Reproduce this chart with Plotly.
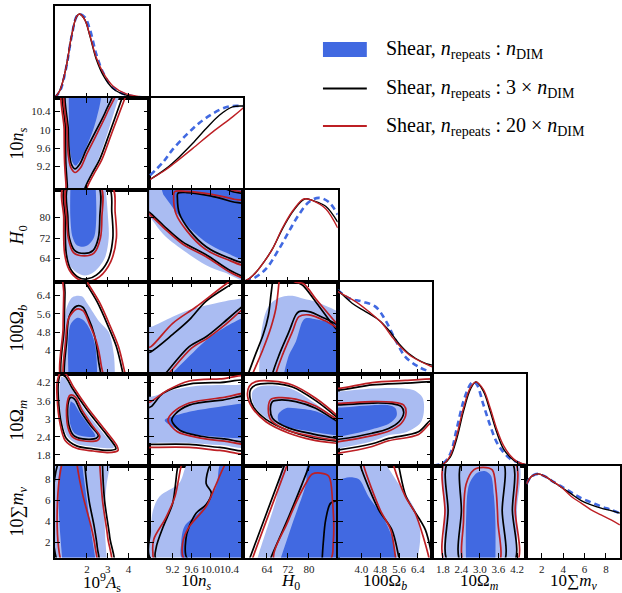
import plotly.graph_objects as go

W, H = 622, 593
COLS = [55.0, 149.6, 244.2, 338.8, 433.4, 528.0, 622.0]
ROWS = [5.7, 97.7, 189.5, 281.5, 373.5, 465.5, 557.5]

RANGES = [[0.45, 5.0], [8.7, 10.7], [55, 91], [3.0, 7.0], [1.45, 4.5], [0.55, 9.32]]
TICKS = [[2, 3, 4], [9.2, 9.6, 10.0, 10.4], [64, 72, 80], [4.0, 4.8, 5.6, 6.4],
         [1.8, 2.4, 3.0, 3.6, 4.2], [2, 4, 6, 8]]
XTXT = [["2", "3", "4"], ["9.2", "9.6", "10.0", "10.4"], ["64", "72", "80"],
        ["4.0", "4.8", "5.6", "6.4"], ["1.8", "2.4", "3.0", "3.6", "4.2"], ["2", "4", "6", "8"]]
YTXT = [["2", "3", "4"], ["9.2", "9.6", "10", "10.4"], ["64", "72", "80"],
        ["4", "4.8", "5.6", "6.4"], ["1.8", "2.4", "3", "3.6", "4.2"], ["2", "4", "6", "8"]]
LABELS = ["10<sup>9</sup><i>A</i><sub>s</sub>", "10<i>n<sub>s</sub></i>", "<i>H</i><sub>0</sub>",
          "100Ω<sub><i>b</i></sub>", "10Ω<sub><i>m</i></sub>", "10∑<i>m<sub>ν</sub></i>"]
LEGEND = ["Shear, <i>n</i><sub>repeats</sub> : <i>n</i><sub>DIM</sub>",
          "Shear, <i>n</i><sub>repeats</sub> : 3 × <i>n</i><sub>DIM</sub>",
          "Shear, <i>n</i><sub>repeats</sub> : 20 × <i>n</i><sub>DIM</sub>"]

# ---- 1D marginals (peak-normalised heights) ----
AS_X = [0.45, 0.7, 1.0, 1.25, 1.5, 1.65, 1.9, 2.15, 2.45, 2.8, 3.25, 3.9, 5.0]
AS_BLUE = [0.0, 0.08, 0.36, 0.72, 0.97, 1.0, 0.96, 0.81, 0.52, 0.29, 0.12, 0.035, 0.0]
AS_BLACK = [0.0, 0.09, 0.37, 0.73, 0.97, 1.0, 0.93, 0.73, 0.46, 0.26, 0.11, 0.03, 0.0]
AS_RED = [0.0, 0.09, 0.37, 0.73, 0.97, 1.0, 0.93, 0.74, 0.48, 0.29, 0.14, 0.045, 0.0]

NS_BLUE_X = [8.72, 9.0, 9.2, 9.5, 9.77, 10.05, 10.3, 10.47, 10.7]
NS_BLUE = [0.17, 0.33, 0.48, 0.66, 0.8, 0.91, 0.98, 1.0, 1.0]
NS_BLACK_X = [8.72, 9.06, 9.34, 9.62, 9.91, 10.19, 10.47, 10.7]
NS_BLACK = [0.12, 0.25, 0.39, 0.55, 0.73, 0.89, 0.99, 1.0]
NS_RED_X = [8.72, 9.06, 9.2, 9.62, 10.05, 10.47, 10.7]
NS_RED = [0.12, 0.24, 0.3, 0.49, 0.69, 0.87, 0.98]

H0_LINE_X = [55.3, 57.5, 59.8, 63.0, 66.1, 69.9, 73.7, 77.5, 78.8, 81.3, 86.4, 91.0]
H0_BLACK = [0.0, 0.04, 0.11, 0.24, 0.39, 0.63, 0.83, 0.97, 0.99, 0.97, 0.9, 0.71]
H0_RED = [0.0, 0.04, 0.11, 0.24, 0.39, 0.64, 0.84, 0.98, 0.99, 0.97, 0.87, 0.64]
H0_BLUE_X = [55.7, 59.0, 63.6, 68.6, 72.4, 76.2, 80.0, 83.8, 87.6, 91.0]
H0_BLUE = [0.0, 0.04, 0.15, 0.39, 0.6, 0.8, 0.95, 1.0, 0.95, 0.8]

OB_BLACK_X = [3.0, 3.61, 4.18, 4.74, 5.16, 5.59, 6.01, 6.57, 7.0]
OB_BLACK = [1.0, 0.84, 0.74, 0.64, 0.52, 0.36, 0.24, 0.14, 0.1]
OB_RED_X = [3.0, 3.76, 4.32, 4.88, 5.3, 5.66, 6.15, 7.0]
OB_RED = [0.98, 0.86, 0.74, 0.6, 0.44, 0.32, 0.2, 0.08]
OB_BLUE_X = [3.0, 3.47, 4.04, 4.6, 5.02, 5.45, 5.87, 6.43, 6.93]
OB_BLUE = [1.0, 0.9, 0.86, 0.8, 0.64, 0.4, 0.2, 0.08, 0.02]

OM_LINE_X = [1.5, 1.82, 2.04, 2.25, 2.47, 2.69, 2.87, 3.11, 3.33, 3.54, 3.76, 3.98, 4.19, 4.5]
OM_RED = [0.0, 0.02, 0.12, 0.36, 0.69, 0.93, 1.0, 0.91, 0.69, 0.44, 0.24, 0.12, 0.05, 0.01]
OM_BLACK = [0.0, 0.02, 0.1, 0.32, 0.65, 0.91, 1.0, 0.89, 0.65, 0.4, 0.2, 0.1, 0.04, 0.01]
OM_BLUE_X = [1.5, 1.82, 2.04, 2.25, 2.47, 2.69, 2.79, 2.9, 3.11, 3.33, 3.54, 3.76, 3.98, 4.4]
OM_BLUE = [0.0, 0.03, 0.14, 0.44, 0.77, 0.97, 1.0, 0.97, 0.73, 0.48, 0.28, 0.16, 0.08, 0.02]

SM_X = [0.58, 1.04, 1.67, 2.29, 2.9, 3.83, 4.76, 5.69, 6.62, 7.55, 8.49, 9.3]
SM_BLACK = [0.88, 0.97, 1.0, 0.97, 0.92, 0.84, 0.76, 0.68, 0.63, 0.59, 0.56, 0.53]
SM_RED = [0.88, 0.97, 1.0, 0.97, 0.92, 0.84, 0.73, 0.65, 0.57, 0.51, 0.45, 0.39]
SM_BLUE = [0.88, 0.97, 1.0, 0.97, 0.92, 0.85, 0.78, 0.71, 0.66, 0.61, 0.57, 0.53]

# ---- 2D contours: (x, y) in data units ----
# b = nDIM (filled), k = 3 x nDIM (black), r = 20 x nDIM (red); 95 / 68 levels
NS_AS = dict(
    b95=[(0.88, 11.0), (0.89, 10.0), (0.9, 9.3), (0.97, 8.8), (1.02, 8.4), (1.85, 8.4), (1.92, 8.71), (2.25, 9.05), (2.55, 9.35), (3.0, 9.93), (3.5, 10.65), (3.8, 11.0)],
    b68=[(1.12, 11.0), (1.14, 10.0), (1.2, 9.5), (1.3, 9.3), (1.45, 9.22), (1.65, 9.32), (1.95, 9.6), (2.3, 10.0), (2.6, 10.5), (2.8, 11.0)],
    k95=[(0.96, 11.0), (0.97, 10.0), (0.98, 9.3), (1.05, 8.8), (1.1, 8.4), (1.8, 8.4), (1.89, 8.71), (2.25, 9.05), (2.61, 9.35), (3.09, 9.93), (3.66, 10.65), (3.95, 11.0)],
    k68=[(1.08, 11.0), (1.1, 10.0), (1.15, 9.5), (1.25, 9.25), (1.42, 9.15), (1.65, 9.25), (1.95, 9.55), (2.4, 9.95), (2.9, 10.4), (3.35, 11.0)],
    r95=[(0.9, 11.0), (0.9, 10.0), (0.92, 9.3), (0.99, 8.8), (1.04, 8.4), (1.88, 8.4), (1.98, 8.71), (2.35, 9.05), (2.72, 9.35), (3.2, 9.93), (3.8, 10.65), (4.1, 11.0)],
    r68=[(1.02, 11.0), (1.04, 10.0), (1.1, 9.45), (1.22, 9.18), (1.42, 9.07), (1.7, 9.18), (2.0, 9.48), (2.5, 9.93), (3.0, 10.4), (3.5, 11.0)],
)
H0_AS = dict(
    b95=[(0.85, 92), (0.85, 80), (0.9, 68), (1.1, 62), (1.5, 58.5), (1.9, 57.3), (2.35, 58.8), (2.85, 64), (3.05, 72), (3.0, 82), (2.9, 92)],
    b68=[(1.2, 92), (1.2, 80), (1.3, 72.5), (1.5, 69.3), (1.81, 68.6), (2.1, 69.6), (2.35, 72.5), (2.45, 80), (2.42, 92)],
    k95=[(0.96, 92), (0.95, 80), (1.0, 66), (1.2, 60), (1.6, 56.6), (2.0, 56.0), (2.45, 57.5), (3.0, 63), (3.25, 72), (3.2, 82), (3.05, 92)],
    k68=[(1.1, 92), (1.08, 80), (1.15, 72), (1.4, 67.2), (1.89, 66.0), (2.3, 67.2), (2.55, 72), (2.62, 80), (2.55, 92)],
    r95=[(0.88, 92), (0.88, 80), (0.92, 66), (1.15, 59.5), (1.6, 55.8), (2.1, 55.0), (2.6, 56.8), (3.15, 62.8), (3.42, 72), (3.36, 82), (3.2, 92)],
    r68=[(1.04, 92), (1.02, 80), (1.1, 72), (1.35, 66.3), (1.89, 65.0), (2.35, 66.2), (2.65, 72), (2.72, 80), (2.65, 92)],
)
OB_AS = dict(
    b95=[(0.95, 2.5), (0.9, 4.5), (1.0, 5.8), (1.3, 6.32), (1.75, 6.36), (2.05, 6.0), (2.6, 5.25), (3.05, 4.8), (3.3, 3.8), (3.35, 2.5)],
    b68=[(1.12, 2.5), (1.1, 4.5), (1.22, 5.15), (1.55, 5.42), (1.85, 5.3), (2.2, 4.8), (2.42, 4.1), (2.5, 2.5)],
    k95=[(0.95, 7.5), (0.94, 6.5), (0.9, 5.0), (0.93, 2.5), (3.85, 2.5), (3.73, 3.03), (3.42, 4.17), (3.05, 5.0), (2.5, 6.1), (1.89, 7.02), (1.6, 7.5)],
    k68=[(1.05, 2.5), (1.03, 4.5), (1.15, 5.5), (1.5, 5.93), (1.8, 5.88), (2.05, 5.45), (2.35, 4.7), (2.55, 3.6), (2.62, 2.5)],
    r95=[(0.88, 7.5), (0.88, 6.5), (0.85, 5.0), (0.88, 2.5), (3.95, 2.5), (3.83, 3.03), (3.52, 4.17), (3.15, 5.0), (2.6, 6.1), (1.98, 7.02), (1.7, 7.5)],
    r68=[(1.0, 2.5), (0.98, 4.5), (1.12, 5.4), (1.5, 5.8), (1.82, 5.72), (2.1, 5.2), (2.45, 4.4), (2.68, 3.4), (2.76, 2.5)],
)
OM_AS = dict(
    b95=[(0.75, 4.4), (0.68, 4.1), (0.68, 3.6), (0.8, 2.9), (1.05, 2.42), (1.5, 2.17), (2.3, 2.07), (3.0, 2.02), (3.3, 2.05), (2.75, 2.55), (1.95, 3.25), (1.3, 3.95), (0.95, 4.35)],
    b68=[(1.22, 3.58), (1.15, 3.35), (1.2, 2.8), (1.4, 2.52), (1.8, 2.42), (2.4, 2.42), (2.15, 2.72), (1.7, 3.15), (1.4, 3.5)],
    k95=[(0.72, 4.45), (0.62, 4.2), (0.62, 3.7), (0.75, 2.9), (1.0, 2.35), (1.5, 2.1), (2.3, 2.0), (3.0, 1.95), (3.4, 2.0), (3.35, 2.1), (2.8, 2.6), (2.0, 3.3), (1.3, 4.0), (0.95, 4.4)],
    k68=[(1.2, 3.7), (1.08, 3.45), (1.12, 2.8), (1.35, 2.45), (1.8, 2.33), (2.45, 2.35), (2.55, 2.45), (2.2, 2.75), (1.7, 3.25), (1.4, 3.65)],
    r95=[(0.72, 4.52), (0.56, 4.2), (0.56, 3.7), (0.7, 2.85), (0.95, 2.28), (1.5, 2.02), (2.3, 1.93), (3.0, 1.88), (3.5, 1.95), (3.45, 2.1), (2.85, 2.65), (2.05, 3.35), (1.35, 4.05), (0.98, 4.48)],
    r68=[(1.18, 3.78), (1.03, 3.45), (1.07, 2.75), (1.3, 2.4), (1.8, 2.27), (2.5, 2.28), (2.62, 2.42), (2.25, 2.78), (1.75, 3.3), (1.45, 3.72)],
)
SM_AS = dict(
    b95=[(0.2, -0.5), (0.2, 10), (3.1, 10), (3.1, 9.3), (2.95, 7.5), (2.85, 5.0), (2.9, 2.0), (3.0, -0.5)],
    b68=[(0.85, -0.5), (0.85, 10), (1.75, 10), (1.78, 9.3), (2.0, 6.0), (2.2, 3.0), (2.4, 0.5), (2.45, -0.5)],
    k95=[(0.3, -0.5), (0.3, 10), (2.75, 10), (2.75, 9.4), (2.85, 6.0), (3.1, 2.5), (3.25, -0.5)],
    k68=[(0.74, -0.5), (0.74, 10), (1.88, 10), (1.9, 9.3), (2.1, 6.0), (2.35, 3.5), (2.5, 1.5), (2.55, -0.5)],
    r95=[(0.3, -0.5), (0.3, 10), (2.6, 10), (2.62, 9.4), (2.75, 6.0), (3.0, 2.5), (3.12, -0.5)],
    r68=[(0.92, -0.5), (0.92, 10), (1.5, 10), (1.53, 9.3), (1.8, 6.5), (2.2, 3.5), (2.4, 1.5), (2.45, -0.5)],
)
H0_NS = dict(
    b95=[(8.6, 92), (10.8, 92), (10.8, 55.5), (10.3, 58.5), (9.9, 61.5), (9.4, 67.5), (9.0, 73.5), (8.7, 80.5), (8.6, 82)],
    b68=[(8.95, 92), (10.8, 92), (10.8, 64.0), (10.3, 66.5), (9.9, 70.5), (9.5, 77), (9.2, 84), (9.0, 89)],
    k95=[(8.6, 83.5), (8.71, 82), (9.0, 77), (9.41, 70.5), (9.91, 65.5), (10.4, 59.5), (10.75, 56.5), (10.9, 55.5), (10.9, 88), (10.5, 90), (10.1, 92.5), (8.6, 92.5)],
    k68=[(9.31, 89.5), (9.5, 89.8), (10.0, 88.5), (10.47, 86.2), (10.8, 84.5), (10.8, 62.5), (10.33, 64.7), (9.91, 68.6), (9.55, 75.2), (9.34, 81.7), (9.3, 87.5)],
    r95=[(8.6, 82.5), (8.71, 81.2), (9.0, 76.2), (9.41, 69.7), (9.91, 64.7), (10.4, 58.8), (10.75, 55.8), (10.9, 54.8), (10.9, 88.6), (10.5, 90.6), (10.1, 93), (8.6, 93)],
    r68=[(9.24, 90.2), (9.5, 90.3), (10.0, 89.2), (10.5, 87.2), (10.8, 85.8), (10.8, 61.6), (10.33, 63.8), (9.88, 67.8), (9.5, 74.8), (9.27, 81.5), (9.22, 88)],
)
OB_NS = dict(
    b95=[(8.6, 2.5), (8.6, 5.0), (8.74, 5.03), (9.2, 5.47), (9.55, 5.76), (10.26, 6.12), (10.72, 6.27), (10.9, 6.3), (10.9, 2.5)],
    b68=[(9.1, 2.8), (9.2, 3.03), (9.55, 3.75), (9.91, 4.45), (10.3, 5.0), (10.72, 5.45), (10.9, 5.6), (10.9, 2.8)],
    k95=[(8.6, 2.5), (8.6, 3.85), (8.74, 3.95), (9.2, 4.7), (9.55, 5.33), (9.91, 6.15), (10.47, 6.92), (10.9, 7.5), (10.9, 2.5)],
    k68=[(9.0, 2.9), (9.06, 3.03), (9.55, 4.17), (9.91, 4.6), (10.26, 5.18), (10.72, 5.98), (10.9, 6.2), (10.9, 2.9)],
    r95=[(8.6, 2.5), (8.6, 4.05), (8.74, 4.17), (9.2, 5.18), (9.7, 5.9), (10.4, 6.99), (10.9, 7.6), (10.9, 2.5)],
    r68=[(9.07, 2.9), (9.13, 3.03), (9.6, 4.1), (9.95, 4.55), (10.3, 5.1), (10.72, 5.85), (10.9, 6.1), (10.9, 2.9)],
)
OM_NS = dict(
    b95=[(8.6, 3.75), (8.74, 3.73), (9.2, 3.95), (9.8, 4.1), (10.5, 4.12), (10.9, 4.1), (10.9, 2.1), (10.2, 2.13), (9.55, 2.2), (8.74, 2.2), (8.6, 2.2)],
    b68=[(10.9, 3.55), (10.2, 3.4), (9.6, 3.25), (9.2, 3.08), (9.03, 2.95), (9.15, 2.78), (9.6, 2.5), (10.3, 2.38), (10.9, 2.35)],
    k95=[(8.6, 3.3), (8.74, 3.4), (9.0, 3.85), (9.55, 4.15), (10.2, 4.2), (10.9, 4.2), (10.9, 2.0), (10.2, 2.05), (9.55, 2.15), (8.74, 2.15), (8.6, 2.15)],
    k68=[(10.9, 3.72), (10.26, 3.62), (9.55, 3.45), (9.25, 3.15), (9.18, 2.95), (9.35, 2.62), (9.8, 2.42), (10.3, 2.33), (10.9, 2.27)],
    r95=[(8.6, 3.45), (8.74, 3.57), (9.1, 3.95), (9.55, 4.25), (10.2, 4.32), (10.9, 4.36), (10.9, 1.9), (10.2, 1.95), (9.55, 2.05), (8.74, 2.05), (8.6, 2.05)],
    r68=[(10.9, 3.8), (10.26, 3.7), (9.55, 3.52), (9.2, 3.2), (9.1, 2.95), (9.3, 2.57), (9.8, 2.36), (10.3, 2.26), (10.9, 2.2)],
)
SM_NS = dict(
    b95=[(9.55, 9.6), (9.48, 9.24), (9.34, 7.64), (8.92, 6.36), (8.78, 5.0), (8.74, 3.0), (8.76, 0.4), (11, 0.4), (11, 9.6)],
    b68=[(10.25, 9.6), (10.19, 9.24), (10.12, 7.3), (9.77, 4.9), (9.45, 3.5), (9.38, 1.9), (9.41, 0.4), (11, 0.4), (11, 9.6)],
    k95=[(9.35, 9.6), (9.31, 9.24), (9.2, 5.73), (9.0, 3.5), (8.85, 1.5), (8.85, 0.4), (11, 0.4), (11, 9.6)],
    k68=[(10.05, 9.6), (9.98, 9.24), (9.91, 7.6), (10.02, 6.7), (9.91, 5.6), (9.7, 4.8), (9.55, 3.5), (9.48, 2.3), (9.52, 0.4), (11, 0.4), (11, 9.6)],
    r95=[(9.42, 9.6), (9.38, 9.24), (9.25, 6.4), (9.05, 4.3), (8.8, 2.3), (8.78, 1.0), (8.81, 0.4), (11, 0.4), (11, 9.6)],
    r68=[(10.35, 9.6), (10.29, 9.24), (10.1, 7.3), (9.91, 5.41), (9.55, 3.49), (9.41, 1.9), (9.45, 0.4), (11, 0.4), (11, 9.6)],
)
OB_H0 = dict(
    b95=[(61.0, 2.5), (61.0, 2.98), (61.7, 4.67), (63.6, 5.69), (66.1, 6.12), (69.9, 6.34), (73.7, 6.38), (78, 6.25), (82.6, 6.12), (91.1, 5.69), (92, 5.6), (92, 2.5)],
    b68=[(69.9, 2.5), (70.5, 2.98), (72.4, 3.8), (75.0, 4.38), (77.5, 5.25), (78.8, 5.4), (85, 5.3), (91.1, 5.18), (92, 5.18), (92, 2.5)],
    k95=[(66.3, 7.5), (66.1, 6.99), (65.5, 6.41), (64.5, 5.5), (62.5, 4.67), (59.5, 3.8), (56.8, 2.98), (55, 2.5), (92, 2.5), (92, 4.8), (91.1, 4.85), (82.6, 6.12), (78, 6.8), (75.6, 7.0), (75, 7.5)],
    k68=[(65.5, 2.5), (66.1, 2.98), (68.6, 3.8), (72.4, 4.82), (75.0, 5.55), (76.2, 5.69), (80.0, 5.69), (86, 5.4), (91.1, 5.11), (92, 5.05), (92, 2.5)],
    r95=[(68.9, 7.5), (68.6, 6.99), (67.4, 5.83), (65.5, 5.0), (62.3, 4.0), (58.5, 2.98), (57, 2.5), (92, 2.5), (92, 5.0), (91.1, 5.11), (82.6, 6.25), (78, 6.9), (74.3, 7.0), (73.5, 7.5)],
    r68=[(66.8, 2.5), (67.4, 2.98), (69.9, 3.8), (73.7, 4.82), (76.2, 5.47), (80.0, 5.55), (86, 5.3), (91.1, 4.97), (92, 4.92), (92, 2.5)],
)
OM_H0 = dict(
    b95=[(92, 2.9), (91.1, 2.95), (82.6, 3.5), (73.7, 3.98), (66.1, 4.1), (60.5, 4.05), (58.5, 3.9), (58.3, 3.65), (59.5, 3.38), (63.6, 3.03), (72.4, 2.65), (81.3, 2.44), (91.1, 2.33), (92, 2.32)],
    b68=[(92, 2.9), (91.1, 2.92), (82.6, 3.25), (75, 3.35), (71.2, 3.35), (68.3, 3.15), (68.5, 2.9), (72.4, 2.72), (81.3, 2.57), (91.1, 2.45), (92, 2.45)],
    k95=[(92, 2.95), (91.1, 3.02), (82.6, 3.6), (73.7, 4.05), (66.1, 4.17), (59.7, 4.12), (57.8, 3.98), (57.5, 3.7), (58.9, 3.38), (63.6, 2.98), (72.4, 2.6), (81.3, 2.37), (91.1, 2.25), (92, 2.24)],
    k68=[(92, 2.88), (91.1, 2.9), (82.6, 3.35), (75.0, 3.57), (68.6, 3.62), (66.1, 3.57), (65.3, 3.35), (66.1, 3.02), (72.4, 2.69), (81.3, 2.5), (91.1, 2.35), (92, 2.34)],
    r95=[(92, 3.0), (91.1, 3.08), (82.6, 3.68), (73.7, 4.12), (66.1, 4.25), (59.7, 4.23), (57.2, 4.07), (56.6, 3.74), (58.5, 3.35), (63.6, 2.9), (72.4, 2.52), (81.3, 2.3), (91.1, 2.18), (92, 2.17)],
    r68=[(92, 2.95), (91.1, 2.97), (82.6, 3.42), (75.0, 3.65), (68.6, 3.7), (65.5, 3.64), (64.5, 3.35), (65.6, 2.95), (72.4, 2.6), (81.3, 2.42), (91.1, 2.28), (92, 2.27)],
)
SM_H0 = dict(
    b95=[(59.8, 0.0), (61.0, 1.0), (67.4, 6.0), (71.2, 9.6), (93, 9.6), (93, 0.0)],
    b68=[(68.6, 0.0), (74, 4.0), (78.8, 7.5), (80.0, 9.6), (93, 9.6), (93, 0.0)],
    k95=[(56.8, 0.0), (57.5, 0.53), (70.5, 9.24), (71, 9.6), (93, 9.6), (93, 0.0)],
    k68=[(64.8, 0.0), (65.5, 0.53), (72.4, 4.5), (80.0, 9.24), (80.5, 9.6), (93, 9.6), (93, 6.2), (91.4, 6.0), (88.3, 5.73), (86.4, 4.13), (85.5, 2.0), (85.1, 0.53), (85, 0.0)],
    r95=[(58.0, 0.0), (58.6, 0.53), (71.5, 9.24), (72, 9.6), (93, 9.6), (93, 0.0)],
    r68=[(66.8, 0.3), (72, 4.0), (78.8, 7.6), (81.3, 8.5), (84.5, 8.6), (87.6, 8.3), (89.0, 6.0), (89.3, 2.0), (88.0, 0.3)],
)
OM_OB = dict(
    b95=[(2.8, 3.9), (3.05, 3.9), (4.46, 4.0), (5.4, 4.02), (6.2, 3.95), (6.6, 3.7), (6.65, 3.2), (6.5, 2.85), (5.9, 2.55), (5.16, 2.45), (4.46, 2.25), (3.05, 2.02), (2.8, 2.0)],
    b68=[(2.8, 3.37), (3.05, 3.37), (4.46, 3.45), (5.16, 3.45), (5.45, 3.35), (5.5, 3.1), (5.2, 2.85), (4.46, 2.65), (3.05, 2.4), (2.8, 2.38)],
    k95=[(2.8, 3.97), (3.05, 3.95), (4.46, 4.12), (5.87, 4.18), (7.03, 4.23), (7.3, 4.23), (7.3, 2.9), (7.03, 3.0), (6.43, 2.57), (5.16, 2.35), (4.46, 2.17), (3.05, 1.97), (2.8, 1.95)],
    k68=[(2.8, 3.47), (3.05, 3.46), (4.46, 3.52), (5.3, 3.5), (5.7, 3.4), (5.8, 3.2), (5.6, 2.9), (5.16, 2.68), (4.46, 2.52), (3.05, 2.32), (2.8, 2.3)],
    r95=[(2.8, 4.03), (3.05, 4.01), (4.46, 4.2), (5.87, 4.27), (7.03, 4.32), (7.3, 4.32), (7.3, 2.8), (7.03, 2.9), (6.43, 2.48), (5.16, 2.27), (4.46, 2.08), (3.05, 1.86), (2.8, 1.84)],
    r68=[(2.8, 3.52), (3.05, 3.51), (4.46, 3.57), (5.3, 3.55), (5.8, 3.45), (5.9, 3.2), (5.7, 2.85), (5.2, 2.6), (4.46, 2.44), (3.05, 2.24), (2.8, 2.22)],
)
SM_OB = dict(
    b95=[(2.5, 10), (4.9, 10), (5.1, 9.24), (5.6, 7.5), (6.3, 5.0), (6.5, 3.0), (6.43, 1.0), (6.3, 0), (2.5, 0)],
    b68=[(2.5, 7.8), (3.05, 7.96), (3.5, 8.2), (3.9, 8.0), (4.3, 6.4), (4.9, 4.5), (5.3, 2.5), (5.45, 0.62), (5.5, 0), (2.5, 0)],
    k95=[(2.5, 10), (5.5, 10), (5.59, 9.24), (5.9, 6.36), (6.72, 3.18), (7.0, 0.62), (7.05, 0), (2.5, 0)],
    k68=[(2.5, 10), (3.9, 10), (3.97, 9.24), (4.74, 5.09), (5.3, 3.18), (5.59, 0.62), (5.65, 0), (2.5, 0)],
    r95=[(2.5, 10), (5.3, 10), (5.38, 9.24), (5.87, 6.36), (6.29, 4.77), (6.86, 0.62), (6.9, 0), (2.5, 0)],
    r68=[(2.5, 10), (4.05, 10), (4.11, 9.24), (4.8, 5.09), (5.25, 3.18), (5.45, 0.62), (5.5, 0), (2.5, 0)],
)
SM_OM = dict(
    b95=[(1.82, 0), (1.85, 5), (1.9, 9.8), (4.2, 9.8), (4.2, 5), (4.2, 0)],
    b68=[(2.55, 0), (2.55, 4), (2.65, 7.5), (2.9, 8.6), (3.15, 8.8), (3.35, 8.4), (3.45, 6.5), (3.5, 4), (3.5, 0)],
    k95=[(2.0, 0.0), (1.97, 5), (2.0, 9.8), (4.0, 9.8), (4.05, 5), (4.08, 0)],
    k68=[(2.4, 0), (2.4, 5), (2.45, 9.8), (3.72, 9.8), (3.72, 5), (3.75, 0)],
    r95=[(1.9, 0), (1.87, 5), (1.9, 9.8), (4.1, 9.8), (4.14, 5), (4.17, 0)],
    r68=[(2.5, 0), (2.47, 4), (2.55, 7.5), (2.8, 8.9), (3.1, 9.15), (3.4, 8.9), (3.52, 7.0), (3.58, 4), (3.6, 0)],
)

PANELS = {(1, 0): NS_AS, (2, 0): H0_AS, (2, 1): H0_NS, (3, 0): OB_AS, (3, 1): OB_NS, (3, 2): OB_H0,
          (4, 0): OM_AS, (4, 1): OM_NS, (4, 2): OM_H0, (4, 3): OM_OB,
          (5, 0): SM_AS, (5, 1): SM_NS, (5, 2): SM_H0, (5, 3): SM_OB, (5, 4): SM_OM}
DIAGS = {0: [(AS_X, AS_BLUE), (AS_X, AS_BLACK), (AS_X, AS_RED)],
         1: [(NS_BLUE_X, NS_BLUE), (NS_BLACK_X, NS_BLACK), (NS_RED_X, NS_RED)],
         2: [(H0_BLUE_X, H0_BLUE), (H0_LINE_X, H0_BLACK), (H0_LINE_X, H0_RED)],
         3: [(OB_BLUE_X, OB_BLUE), (OB_BLACK_X, OB_BLACK), (OB_RED_X, OB_RED)],
         4: [(OM_BLUE_X, OM_BLUE), (OM_LINE_X, OM_BLACK), (OM_LINE_X, OM_RED)],
         5: [(SM_X, SM_BLUE), (SM_X, SM_BLACK), (SM_X, SM_RED)]}

BLUE = "#4169e1"
LIGHT = "#aabcf2"
BLACK = "#000000"
RED = "#bd1f24"
SERIF = "Liberation Serif, Times New Roman, serif"

fig = go.Figure()
layout = dict(width=W, height=H, margin=dict(l=0, r=0, t=0, b=0),
              paper_bgcolor="white", plot_bgcolor="white", showlegend=False)

k = 0
for i in range(6):
    for j in range(i + 1):
        k += 1
        xn = "xaxis" if k == 1 else f"xaxis{k}"
        yn = "yaxis" if k == 1 else f"yaxis{k}"
        xr = "x" if k == 1 else f"x{k}"
        yr = "y" if k == 1 else f"y{k}"
        diag = (i == j)
        common = dict(showgrid=False, zeroline=False, showline=True, linecolor="black", linewidth=2,
                      ticks="inside", ticklen=5, tickwidth=1.3, tickcolor="black", tickangle=0,
                      tickfont=dict(family=SERIF, size=11, color="#222"))
        layout[xn] = dict(common, domain=[COLS[j] / W, min(COLS[j + 1] / W, 1.0)], anchor=yr,
                          range=RANGES[j], tickmode="array", tickvals=TICKS[j], ticktext=XTXT[j],
                          showticklabels=(i == 5), mirror=(True if diag else "ticks"))
        if diag:
            layout[yn] = dict(showgrid=False, zeroline=False, showline=True, linecolor="black",
                              linewidth=2, mirror=True, ticks="", showticklabels=False,
                              domain=[1 - ROWS[i + 1] / H, 1 - ROWS[i] / H], anchor=xr, range=[0, 1.1])
            (bx, by), (kx, ky), (rx, ry) = DIAGS[i]
            fig.add_trace(go.Scatter(x=bx, y=by, mode="lines", xaxis=xr, yaxis=yr, hoverinfo="skip",
                                     line=dict(color=BLUE, width=2.6, dash="6px,4px", shape="spline", smoothing=1.0)))
            fig.add_trace(go.Scatter(x=kx, y=ky, mode="lines", xaxis=xr, yaxis=yr, hoverinfo="skip",
                                     line=dict(color=BLACK, width=1.4, shape="spline", smoothing=1.0)))
            fig.add_trace(go.Scatter(x=rx, y=ry, mode="lines", xaxis=xr, yaxis=yr, hoverinfo="skip",
                                     line=dict(color=RED, width=1.4, shape="spline", smoothing=1.0)))
        else:
            layout[yn] = dict(common, domain=[1 - ROWS[i + 1] / H, 1 - ROWS[i] / H], anchor=xr,
                              range=RANGES[i], tickmode="array", tickvals=TICKS[i], ticktext=YTXT[i],
                              showticklabels=(j == 0), mirror="ticks")
            c = PANELS[(i, j)]
            for key, col in (("b95", LIGHT), ("b68", BLUE)):
                pts = c[key]
                fig.add_trace(go.Scatter(x=[p[0] for p in pts], y=[p[1] for p in pts], mode="lines",
                                         fill="toself", fillcolor=col, xaxis=xr, yaxis=yr, hoverinfo="skip",
                                         line=dict(width=0, color=col, shape="spline", smoothing=0.9)))
            for key, col in (("k95", BLACK), ("k68", BLACK), ("r95", RED), ("r68", RED)):
                pts = c[key] + [c[key][0]]
                fig.add_trace(go.Scatter(x=[p[0] for p in pts], y=[p[1] for p in pts], mode="lines",
                                         xaxis=xr, yaxis=yr, hoverinfo="skip",
                                         line=dict(width=1.7, color=col, shape="spline", smoothing=0.9)))

annotations = []
for j in range(6):
    cx = (COLS[j] + min(COLS[j + 1], 622.6)) / 2 / W
    annotations.append(dict(text=LABELS[j], x=cx, y=1 - 582 / H, xref="paper", yref="paper",
                            showarrow=False, xanchor="center", yanchor="middle",
                            font=dict(family=SERIF, size=17, color="black")))
for i in range(1, 6):
    cy = 1 - (ROWS[i] + ROWS[i + 1]) / 2 / H
    annotations.append(dict(text=LABELS[i], x=19 / W, y=cy, xref="paper", yref="paper",
                            showarrow=False, xanchor="center", yanchor="middle", textangle=-90,
                            font=dict(family=SERIF, size=18, color="black")))

shapes = [dict(type="rect", xref="paper", yref="paper", x0=324 / W, x1=368 / W,
               y0=1 - 57 / H, y1=1 - 42 / H, fillcolor=BLUE, line=dict(width=0)),
          dict(type="line", xref="paper", yref="paper", x0=324 / W, x1=368 / W,
               y0=1 - 88.5 / H, y1=1 - 88.5 / H, line=dict(color=BLACK, width=2)),
          dict(type="line", xref="paper", yref="paper", x0=324 / W, x1=368 / W,
               y0=1 - 126 / H, y1=1 - 126 / H, line=dict(color=RED, width=2))]
for t, yy in zip(LEGEND, [50, 88.5, 126]):
    annotations.append(dict(text=t, x=385 / W, y=1 - yy / H, xref="paper", yref="paper",
                            showarrow=False, xanchor="left", yanchor="middle",
                            font=dict(family=SERIF, size=20, color="black")))

layout["annotations"] = annotations
layout["shapes"] = shapes
fig.update_layout(**layout)
fig.write_html("out.html")
